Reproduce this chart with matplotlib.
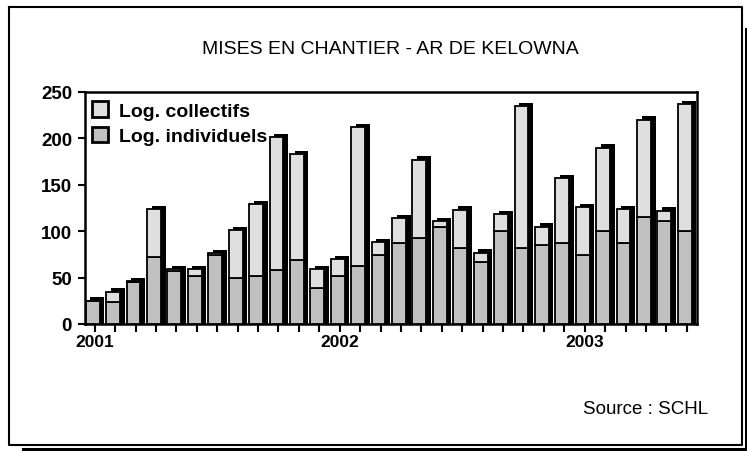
import matplotlib
matplotlib.use("Agg")
import matplotlib.pyplot as plt
import matplotlib.transforms as mtransforms
from matplotlib.patches import Patch
from matplotlib.lines import Line2D
import numpy as np

plt.rcParams['font.family'] = ['Liberation Sans', 'DejaVu Sans']

# Monthly data Jan 2001 - Jun 2003
individuels = [25, 24, 45, 72, 57, 52, 74, 50, 52, 58,
               69, 39, 52, 63, 74, 87, 93, 104, 82, 67,
               100, 82, 85, 87, 74, 100, 87, 115, 111, 100]
collectifs = [0, 11, 1, 52, 2, 7, 2, 51, 77, 143,
              114, 20, 18, 149, 14, 27, 84, 7, 41, 10,
              18, 153, 20, 70, 52, 90, 37, 105, 11, 137]
year_labels = {0: "2001", 12: "2002", 24: "2003"}
yticks = [0, 50, 100, 150, 200, 250]

title = "MISES EN CHANTIER - AR DE KELOWNA"
source = "Source : SCHL"
legend_labels = ["Log. collectifs", "Log. individuels"]

c_coll = "#dfdfdf"
c_ind = "#c0c0c0"

W, H = 747, 452
fig = plt.figure(figsize=(W / 100, H / 100), dpi=100)
fig.patch.set_facecolor("white")

ax = fig.add_axes([84.5 / W, 1 - 325 / H, (697 - 84.5) / W, (325 - 93) / H])

x = np.arange(len(individuels))
ind = np.array(individuels)
col = np.array(collectifs)
tot = ind + col

bw = 0.68
shift_l = mtransforms.ScaledTranslation(-2.0 / 100, 0, fig.dpi_scale_trans)
shift_s = mtransforms.ScaledTranslation(2.6 / 100, 3.4 / 100, fig.dpi_scale_trans)

# shadow (black) behind each bar, extending below the axis (clipped)
ax.bar(x, tot + 20, bottom=-20, width=bw, color="black", edgecolor="black",
       linewidth=0, zorder=2, transform=ax.transData + shift_s)
ax.bar(x, ind, width=bw, color=c_ind, edgecolor="black", linewidth=1.3,
       zorder=3, transform=ax.transData + shift_l)
ax.bar(x, col, bottom=ind, width=bw, color=c_coll, edgecolor="black",
       linewidth=1.3, zorder=3, transform=ax.transData + shift_l)

ax.set_xlim(-0.5, len(x) - 0.5)
ax.set_ylim(0, 250)
ax.set_yticks(yticks)
ax.set_yticklabels([str(v) for v in yticks], fontsize=13.5, fontweight="bold")
ax.set_xticks(x)
ax.set_xticklabels([year_labels.get(i, "") for i in x], fontsize=12.5,
                   fontweight="bold")
ax.tick_params(axis="y", direction="out", length=5, width=1.5, pad=4)
ax.tick_params(axis="x", direction="out", length=5.5, width=1.5, pad=1.5)
for s in ax.spines.values():
    s.set_linewidth(1.8)
    s.set_color("black")

handles = [Patch(facecolor=c_coll, edgecolor="black", linewidth=2),
           Patch(facecolor=c_ind, edgecolor="black", linewidth=2)]
leg = ax.legend(handles, legend_labels, loc="upper left",
                bbox_to_anchor=(0.012, 0.96), frameon=False,
                prop={"size": 14, "weight": "bold"},
                handlelength=0.85, handleheight=0.85, handletextpad=0.55,
                labelspacing=0.35, borderaxespad=0, borderpad=0)
leg.set_zorder(5)

fig.text(390 / W, 1 - 49 / H, title, ha="center", va="center", fontsize=14)
fig.text(708 / W, 1 - 410 / H, source, ha="right", va="center", fontsize=13.5)

# outer frame with shadow lines
def fl(xs, ys, lw):
    fig.add_artist(Line2D([v / W for v in xs], [1 - v / H for v in ys],
                          color="black", linewidth=lw, transform=fig.transFigure))

fl([8.5, 741.5, 741.5, 8.5, 8.5], [8, 8, 446, 446, 8], 1.5)
fl([23, 745.5], [450, 450], 2.2)
fl([745.5, 745.5], [30, 450], 2.2)

fig.savefig("out.png", dpi=100, facecolor="white")
